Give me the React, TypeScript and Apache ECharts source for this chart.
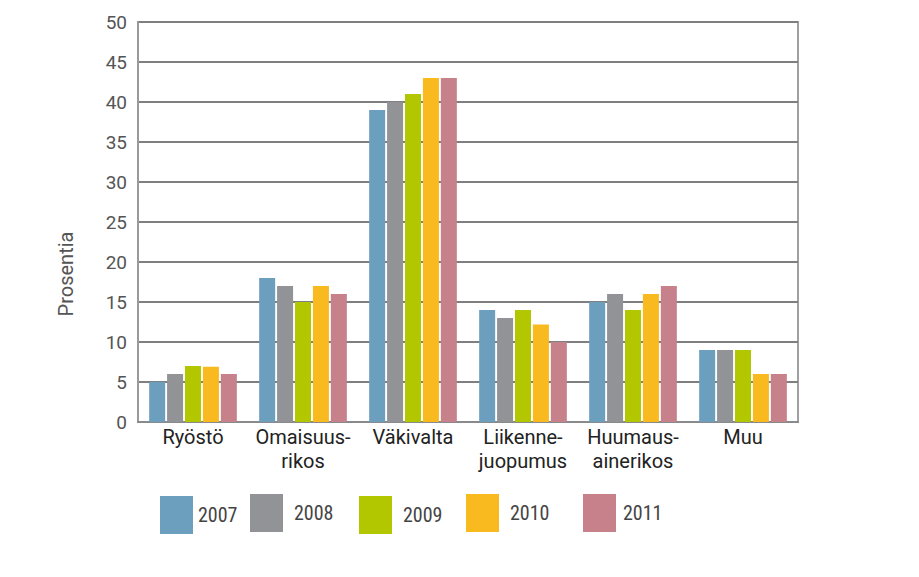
import React, { useEffect, useRef } from "react";
import * as echarts from "echarts";

const categories = ["Ryöstö", "Omaisuus-\nrikos", "Väkivalta", "Liikenne-\njuopumus", "Huumaus-\nainerikos", "Muu"];
const years = ["2007", "2008", "2009", "2010", "2011"];
const v2007 = [5, 18, 39, 14, 15, 9];
const v2008 = [6, 17, 40, 13, 16, 9];
const v2009 = [7, 15, 41, 14, 14, 9];
const v2010 = [6.9, 17, 43, 12.2, 16, 6];
const v2011 = [6, 16, 43, 10, 17, 6];
const yTicks = [0, 5, 10, 15, 20, 25, 30, 35, 40, 45, 50];

const colors = ["#6b9fbd", "#929396", "#b3c700", "#f9ba20", "#c6818a"];
const seriesValues = [v2007, v2008, v2009, v2010, v2011];

const legendPos = [
  { left: 155, top: 491, pad: [0, 0, 0, 0] },
  { left: 245, top: 489, pad: [0, 0, 0, 6] },
  { left: 354, top: 491, pad: [0, 0, 0, 6] },
  { left: 461, top: 489, pad: [0, 0, 0, 6] },
  { left: 578, top: 489, pad: [0, 0, 0, 2] },
];

const axisFont = "Roboto, 'DejaVu Sans', sans-serif";
const legendFont = "'Liberation Sans Narrow', 'Roboto Condensed', 'Arial Narrow', Roboto, sans-serif";

export default function App() {
  const ref = useRef<HTMLDivElement>(null);
  useEffect(() => {
    document.body.style.margin = "0";
    if (!ref.current) return;
    const chart = echarts.init(ref.current, null, { renderer: "svg" });
    chart.setOption({
      animation: false,
      backgroundColor: "#ffffff",
      grid: {
        left: 138,
        right: 121,
        top: 22,
        bottom: 155,
        show: true,
        borderColor: "#a0a0a2",
        borderWidth: 2,
      },
      legend: years.map((y, i) => ({
        data: [y],
        left: legendPos[i].left,
        top: legendPos[i].top,
        itemWidth: 33,
        itemHeight: 38,
        icon: "rect",
        selectedMode: false,
        textStyle: {
          fontFamily: legendFont,
          fontSize: 20,
          color: "#444",
          padding: legendPos[i].pad,
        },
      })),
      xAxis: {
        type: "category",
        data: categories,
        axisLine: { show: true, lineStyle: { color: "#8a8a8c", width: 2 } },
        axisTick: { show: false },
        axisLabel: {
          color: "#222",
          fontSize: 20,
          fontFamily: axisFont,
          lineHeight: 24,
          margin: 3,
          interval: 0,
        },
      },
      yAxis: {
        type: "value",
        min: 0,
        max: 50,
        interval: 5,
        axisLine: { show: true, lineStyle: { color: "#9a9a9c", width: 2 } },
        axisTick: { show: false },
        axisLabel: {
          color: "#555",
          fontSize: 19,
          fontFamily: axisFont,
          margin: 11,
          formatter: (v: number) => (yTicks.includes(v) ? String(v) : ""),
        },
        splitLine: { show: true, lineStyle: { color: "#7f7f7f", width: 2 } },
      },
      graphic: [
        {
          type: "text",
          x: 66,
          y: 274,
          rotation: Math.PI / 2,
          style: {
            text: "Prosentia",
            fontSize: 20,
            fontFamily: axisFont,
            fill: "#555",
            align: "center",
            verticalAlign: "middle",
          },
        },
      ],
      series: years.map((y, i) => ({
        name: y,
        type: "bar",
        data: seriesValues[i],
        barWidth: 16,
        barGap: "12%",
        itemStyle: { color: colors[i] },
      })),
    });
    return () => chart.dispose();
  }, []);
  return <div ref={ref} style={{ width: 919, height: 577 }} />;
}
